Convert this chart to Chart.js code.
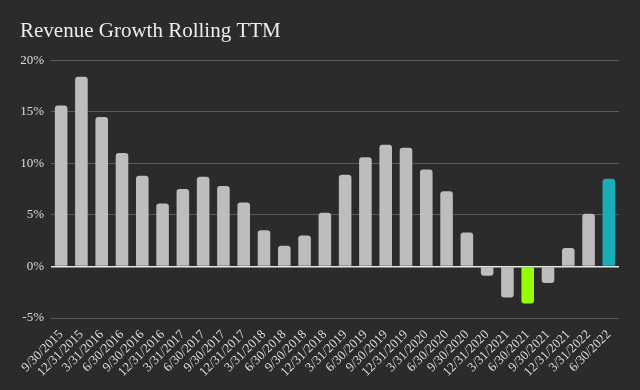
<!DOCTYPE html>
<html><head><meta charset="utf-8">
<script src="https://cdn.jsdelivr.net/npm/chart.js@4/dist/chart.umd.min.js"></script>
<style>html,body{margin:0;padding:0;background:#2b2b2b;}#wrap{width:640px;height:390px;}</style>
</head><body><div id="wrap"><canvas id="c" width="640" height="390"></canvas></div>
<script>
const categories = ["9/30/2015","12/31/2015","3/31/2016","6/30/2016","9/30/2016","12/31/2016","3/31/2017","6/30/2017","9/30/2017","12/31/2017","3/31/2018","6/30/2018","9/30/2018","12/31/2018","3/31/2019","6/30/2019","9/30/2019","12/31/2019","3/31/2020","6/30/2020","9/30/2020","12/31/2020","3/31/2021","6/30/2021","9/30/2021","12/31/2021","3/31/2022","6/30/2022"];
const growth = [15.6,18.4,14.5,11.0,8.8,6.1,7.5,8.7,7.8,6.2,3.5,2.0,3.0,5.2,8.9,10.6,11.8,11.5,9.4,7.3,3.3,-0.9,-3.0,-3.6,-1.6,1.8,5.1,8.5];
const yTicks = [-5,0,5,10,15,20];
const highlight = {"6/30/2021":"#95ff00","6/30/2022":"#19adb5"};
const barColors = categories.map(c => highlight[c] || "#bdbdbd");
const serif = "'Liberation Serif','Times New Roman',serif";

new Chart(document.getElementById('c'), {
  type: 'bar',
  data: { labels: categories, datasets: [{ data: growth, backgroundColor: barColors, borderRadius: 3, borderSkipped: 'start', barPercentage: 0.62, categoryPercentage: 1 }] },
  options: {
    responsive: false, animation: false,
    layout: { padding: { left: 20, right: 21, top: 0, bottom: 0 } },
    plugins: {
      legend: { display: false }, tooltip: { enabled: false },
      title: { display: true, text: 'Revenue Growth Rolling TTM', align: 'start', color: '#ececec',
        font: { family: serif, size: 21, weight: 'normal' }, padding: { top: 19, bottom: 16 } }
    },
    scales: {
      x: {
        grid: { display: false }, border: { display: false },
        ticks: { color: '#dcdcdc', font: { family: serif, size: 13 }, minRotation: 45, maxRotation: 45, autoSkip: false, padding: 1 },
        afterFit: s => { s.height = 72; }
      },
      y: {
        min: -5, max: 20,
        afterBuildTicks: s => { s.ticks = yTicks.map(v => ({ value: v })); },
        afterFit: s => { s.width = 31; },
        border: { display: false },
        grid: { color: ctx => ctx.tick && ctx.tick.value === 0 ? '#e6e6e6' : '#5c5c5c', lineWidth: ctx => ctx.tick && ctx.tick.value === 0 ? 1.5 : 1, drawTicks: false },
        ticks: { color: '#dcdcdc', font: { family: serif, size: 13 }, padding: 7, callback: v => v + '%' }
      }
    }
  },
  plugins: [{ id: 'bg', beforeDraw: ch => { const g = ch.ctx; g.save(); g.fillStyle = '#2b2b2b'; g.fillRect(0,0,ch.width,ch.height); g.restore(); } }]
});
</script></body></html>
